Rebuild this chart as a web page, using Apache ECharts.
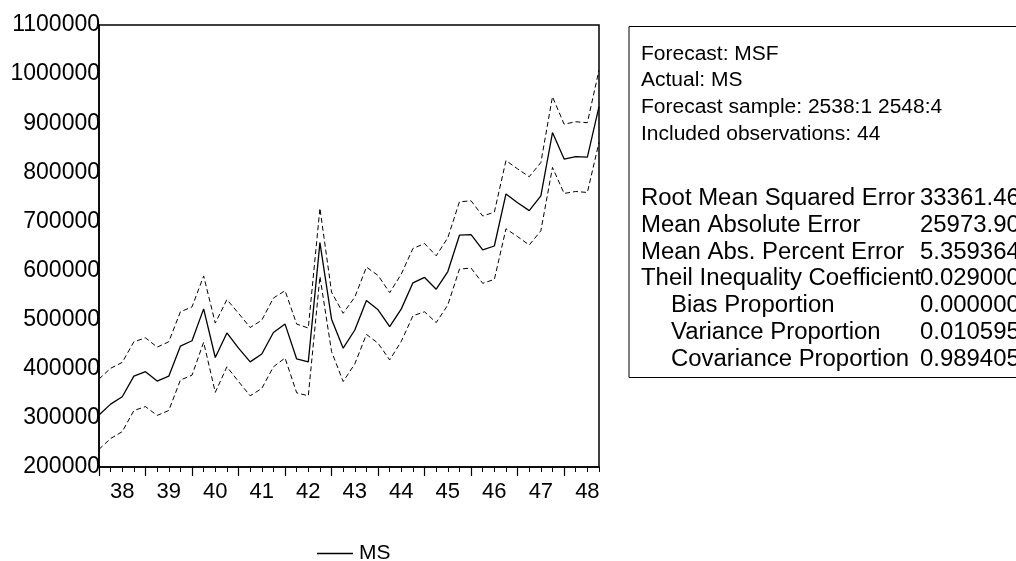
<!DOCTYPE html>
<html>
<head>
<meta charset="utf-8">
<title>MS forecast</title>
<script src="https://cdn.jsdelivr.net/npm/echarts@6/dist/echarts.min.js"></script>
<style>
  html, body { margin: 0; padding: 0; background: #fff; }
  #chart { width: 1016px; height: 561px; }
</style>
</head>
<body>
<div id="chart"></div>
<script>
// quarterly sample 2538:1 - 2548:4
var quarters = [
  "2538:1","2538:2","2538:3","2538:4","2539:1","2539:2","2539:3","2539:4",
  "2540:1","2540:2","2540:3","2540:4","2541:1","2541:2","2541:3","2541:4",
  "2542:1","2542:2","2542:3","2542:4","2543:1","2543:2","2543:3","2543:4",
  "2544:1","2544:2","2544:3","2544:4","2545:1","2545:2","2545:3","2545:4",
  "2546:1","2546:2","2546:3","2546:4","2547:1","2547:2","2547:3","2547:4",
  "2548:1","2548:2","2548:3","2548:4"
];

// forecast (solid)
var msForecast = [
  306000, 328000, 343000, 385000, 394000, 375000, 385000, 446000, 457000, 522000, 423000,
  473000, 442000, 414000, 430000, 474000, 491000, 420000, 414000, 657000, 501000, 442000,
  479000, 539000, 520000, 486000, 522000, 575000, 586000, 562000, 598000, 672000, 673000,
  642000, 650000, 756000, 738000, 722000, 752000, 881000, 827000, 832000, 831000, 934000
];

// +/- 2 S.E. bands (dashed)
var upperBand = [
  379000, 401000, 413000, 455000, 463000, 444000, 455000, 516000, 526000, 589000, 493000,
  541000, 513000, 484000, 499000, 544000, 559000, 491000, 483000, 727000, 556000, 513000,
  546000, 607000, 590000, 555000, 593000, 645000, 655000, 630000, 667000, 740000, 742000,
  711000, 719000, 824000, 807000, 791000, 820000, 954000, 898000, 903000, 901000, 1008000
];
var lowerBand = [
  236000, 258000, 272000, 315000, 323000, 305000, 315000, 377000, 387000, 454000, 352000,
  404000, 374000, 345000, 360000, 404000, 422000, 351000, 345000, 588000, 435000, 374000,
  410000, 470000, 452000, 418000, 456000, 508000, 516000, 494000, 530000, 603000, 605000,
  574000, 582000, 685000, 669000, 652000, 681000, 810000, 757000, 761000, 759000, 861000
];

var infoLines = [
  "Forecast: MSF",
  "Actual: MS",
  "Forecast sample: 2538:1 2548:4",
  "Included observations: 44"
];
var statNames = [
  "Root Mean Squared Error",
  "Mean Absolute Error",
  "Mean Abs. Percent Error",
  "Theil Inequality Coefficient",
  "Bias Proportion",
  "Variance Proportion",
  "Covariance Proportion"
];
var statValues = ["33361.46", "25973.90", "5.359364", "0.029000", "0.000000", "0.010595", "0.989405"];
var statIndent = [0, 0, 0, 0, 30, 30, 30];

var FONT = "Liberation Sans, Arial, sans-serif";

var myChart = echarts.init(document.getElementById('chart'));

// stats box on the right
var graphics = [{
  type: 'rect',
  shape: { x: 629, y: 26.5, width: 420, height: 351 },
  style: { fill: 'none', stroke: '#000', lineWidth: 1 }
}];
infoLines.forEach(function (t, i) {
  graphics.push({
    type: 'text', x: 641, y: 54 + i * 26.7, scaleX: 1.05,
    style: { text: t, x: 0, y: 0, fontSize: 20, fontFamily: FONT, fill: '#000', verticalAlign: 'middle' }
  });
});
statNames.forEach(function (t, i) {
  var yy = 199 + i * 26.7;
  graphics.push({
    type: 'text', x: 641 + statIndent[i], y: yy, scaleX: 1.04,
    style: { text: t, x: 0, y: 0, fontSize: 23, fontFamily: FONT, fill: '#000', verticalAlign: 'middle' }
  });
  graphics.push({
    type: 'text', x: 920, y: yy, scaleX: 1.04,
    style: { text: statValues[i], x: 0, y: 0, fontSize: 23, fontFamily: FONT, fill: '#000', verticalAlign: 'middle' }
  });
});

option = {
  animation: false,
  backgroundColor: '#fff',
  grid: {
    left: 99,
    right: 417,
    top: 25,
    bottom: 94,
    show: true,
    borderColor: '#000',
    borderWidth: 1.5
  },
  legend: {
    data: [{ name: 'MS', icon: 'rect' }],
    left: 312,
    top: 538,
    itemWidth: 36,
    itemHeight: 1.5,
    selectedMode: false,
    textStyle: { fontSize: 21, fontFamily: FONT, color: '#000', padding: [0, 0, 0, 1] }
  },
  xAxis: [
    {
      type: 'category',
      data: quarters,
      boundaryGap: false,
      position: 'bottom',
      axisLine: { show: true, lineStyle: { color: '#000', width: 1.5 } },
      axisTick: { show: true, interval: 0, length: 5, lineStyle: { color: '#000', width: 1 } },
      axisLabel: {
        interval: function (idx) { return idx % 4 === 2; },
        formatter: function (v) { return v.slice(2, 4); },
        margin: 14,
        fontSize: 22,
        fontFamily: FONT,
        color: '#000'
      },
      splitLine: { show: false }
    },
    {
      // longer ticks at the start of each year
      type: 'category',
      data: quarters,
      boundaryGap: false,
      position: 'bottom',
      axisLine: { show: false },
      axisTick: {
        show: true,
        interval: function (idx) { return idx % 4 === 0; },
        length: 9,
        lineStyle: { color: '#000', width: 1.2 }
      },
      axisLabel: { show: false },
      splitLine: { show: false }
    }
  ],
  yAxis: {
    type: 'value',
    min: 200000,
    max: 1100000,
    interval: 100000,
    axisLine: { show: true, lineStyle: { color: '#000', width: 1.5 } },
    axisTick: { show: false },
    splitLine: { show: false },
    axisLabel: {
      margin: -1,
      fontSize: 23,
      fontFamily: FONT,
      color: '#000',
      padding: [0, 0, 5, 0],
      formatter: function (v) { return String(v); }
    }
  },
  series: [
    {
      name: 'upper',
      type: 'line',
      data: upperBand,
      symbol: 'none',
      lineStyle: { color: '#000', width: 1, type: [5, 3] }
    },
    {
      name: 'MS',
      type: 'line',
      data: msForecast,
      symbol: 'none',
      itemStyle: { color: '#000' },
      lineStyle: { color: '#000', width: 1.3 }
    },
    {
      name: 'lower',
      type: 'line',
      data: lowerBand,
      symbol: 'none',
      lineStyle: { color: '#000', width: 1, type: [5, 3] }
    }
  ],
  graphic: graphics
};

myChart.setOption(option);
</script>
</body>
</html>
